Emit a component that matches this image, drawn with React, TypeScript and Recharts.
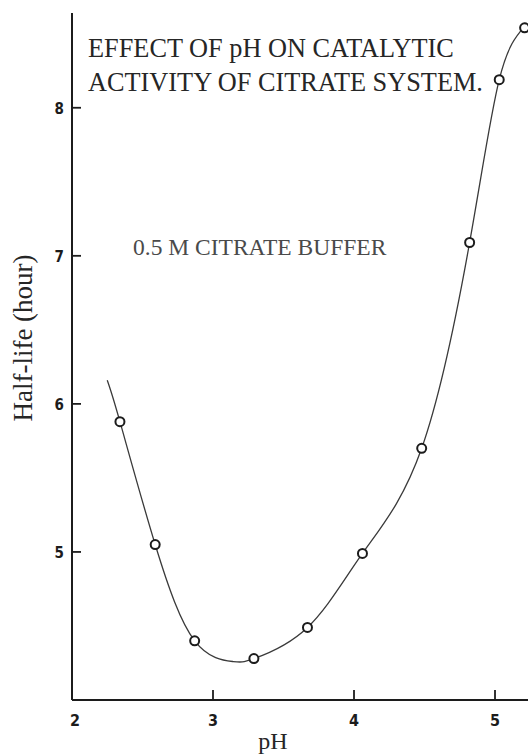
import { ComposedChart, XAxis, YAxis, Line, Scatter } from "recharts";

// measured points (circles)
const phMeasured = [2.34, 2.59, 2.87, 3.29, 3.67, 4.06, 4.48, 4.82, 5.03, 5.21];
const halfLifeMeasured = [5.88, 5.05, 4.4, 4.28, 4.49, 4.99, 5.7, 7.09, 8.19, 8.54];

// hand-drawn smooth curve
const phCurve = [2.25, 2.34, 2.59, 2.87, 3.14, 3.29, 3.67, 4.06, 4.48, 4.82, 5.03, 5.21];
const halfLifeCurve = [6.16, 5.88, 5.05, 4.4, 4.26, 4.28, 4.49, 4.99, 5.7, 7.09, 8.19, 8.55];

const xTicks = [2, 3, 4, 5];
const yTicks = [5, 6, 7, 8];

const measured = phMeasured.map((ph, i) => ({ ph, h: halfLifeMeasured[i] }));
const curve = phCurve.map((ph, i) => ({ ph, h: halfLifeCurve[i] }));

const INK = "#1c1c1c";
const SERIF = "'Liberation Serif', 'Times New Roman', serif";
const TICK_FONT = "'DejaVu Sans Condensed', 'Liberation Sans Narrow', 'DejaVu Sans', sans-serif";

function XTick(props: any) {
  const { x, y, payload } = props;
  const v = payload.value;
  return (
    <g>
      {v !== 2 && (
        <line x1={x} y1={y} x2={x} y2={y - 10} stroke={INK} strokeWidth={1.8} />
      )}
      <text
        x={v === 2 ? x + 3 : x}
        y={y + 20}
        textAnchor="middle"
        dominantBaseline="central"
        fontFamily={TICK_FONT}
        fontWeight="bold"
        fontSize={16}
        fill={INK}
      >
        {v}
      </text>
    </g>
  );
}

function YTick(props: any) {
  const { x, y, payload } = props;
  return (
    <g>
      <line x1={x} y1={y} x2={x + 9} y2={y} stroke={INK} strokeWidth={1.8} />
      <text
        x={x - 8}
        y={y + 1}
        textAnchor="end"
        dominantBaseline="central"
        fontFamily={TICK_FONT}
        fontWeight="bold"
        fontSize={15}
        fill={INK}
      >
        {payload.value}
      </text>
    </g>
  );
}

function Ring(props: any) {
  const { cx, cy } = props;
  return <circle cx={cx} cy={cy} r={4.5} fill="#fff" stroke={INK} strokeWidth={2} />;
}

export default function App() {
  return (
    <div style={{ position: "absolute", left: 0, top: 0, width: 528, height: 754, background: "#fff" }}>
      <ComposedChart
        width={528}
        height={754}
        margin={{ top: 13, right: 0, bottom: 0, left: 0 }}
      >
        <XAxis
          type="number"
          dataKey="ph"
          domain={[2, 5.234]}
          ticks={xTicks}
          allowDataOverflow
          height={54}
          tickSize={0}
          tickMargin={0}
          tickLine={false}
          tick={<XTick />}
          axisLine={{ stroke: INK, strokeWidth: 2 }}
        />
        <YAxis
          type="number"
          dataKey="h"
          domain={[4, 8.64]}
          ticks={yTicks}
          allowDataOverflow
          width={72}
          tickSize={0}
          tickMargin={0}
          tickLine={false}
          tick={<YTick />}
          axisLine={{ stroke: INK, strokeWidth: 2 }}
        />
        <Line
          data={curve}
          dataKey="h"
          type="natural"
          stroke="#3a3a3a"
          strokeWidth={1.3}
          dot={false}
          isAnimationActive={false}
        />
        <Scatter
          data={measured}
          dataKey="h"
          shape={<Ring />}
          isAnimationActive={false}
        />
      </ComposedChart>
      <svg
        width={528}
        height={754}
        style={{ position: "absolute", left: 0, top: 0, pointerEvents: "none" }}
      >
        <g fontFamily={SERIF} fill="#262626">
          <text x={88} y={57} fontSize={26.3}>EFFECT OF pH ON CATALYTIC</text>
          <text x={88} y={91} fontSize={26.3}>ACTIVITY OF CITRATE SYSTEM.</text>
          <text x={133} y={255} fontSize={23.5} fill="#4a4a4a">0.5 M CITRATE BUFFER</text>
          <text
            x={0}
            y={0}
            fontSize={27}
            textAnchor="middle"
            transform="translate(32 338) rotate(-90)"
          >
            Half-life (hour)
          </text>
          <text x={273} y={749} fontSize={24} textAnchor="middle">pH</text>
        </g>
      </svg>
    </div>
  );
}
